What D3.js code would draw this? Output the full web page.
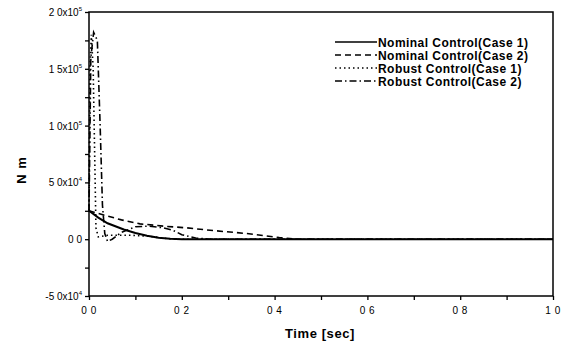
<!DOCTYPE html>
<html>
<head>
<meta charset="utf-8">
<script src="https://cdn.jsdelivr.net/npm/d3@7"></script>
<style>
  body { margin: 0; background: #fff; }
  svg { display: block; font-family: "Liberation Sans", Arial, sans-serif; }
</style>
</head>
<body>
<svg width="561" height="345"></svg>
<script>
// time [sec], torque [N m]
var nominal1 = [[0, 25000], [0.02, 19000], [0.04, 14000], [0.075, 8500], [0.1, 5500], [0.125, 3000],
                [0.15, 1300], [0.175, 300], [0.2, 0], [1.0, 0]]
var nominal2 = [[0, 25000], [0.03, 21500], [0.07, 17000], [0.11, 13500], [0.16, 11500], [0.21, 10000],
                [0.27, 7500], [0.34, 5000], [0.41, 1500], [0.45, 0], [1.0, 0]]
var robust1 = [[0, 25000], [0.002, 150000], [0.005, 180000], [0.009, 150000], [0.012, 80000],
               [0.015, 10000], [0.02, 2000], [0.04, 3500], [0.09, 3500], [0.13, 2500], [0.18, 0], [1.0, 0]]
var robust2 = [[0, 25000], [0.004, 160000], [0.01, 182000], [0.018, 175000], [0.024, 100000],
               [0.029, 30000], [0.034, 5000], [0.04, -2000], [0.05, 0], [0.07, 6000], [0.1, 11000],
               [0.13, 11500], [0.16, 10000], [0.18, 8000], [0.2, 4000], [0.23, 1000], [0.26, 0], [1.0, 0]]

var seriesNames = ['Nominal Control(Case 1)', 'Nominal Control(Case 2)', 'Robust Control(Case 1)', 'Robust Control(Case 2)']
var xTicks = [0, 0.2, 0.4, 0.6, 0.8, 1.0]
var xTickLabels = ['0 0', '0 2', '0 4', '0 6', '0 8', '1 0']
var yTicks = [-50000, 0, 50000, 100000, 150000, 200000]
var yTickLabels = [['-5 0x10', '4'], ['0 0', ''], ['5 0x10', '4'], ['1 0x10', '5'], ['1 5x10', '5'], ['2 0x10', '5']]

var svg = d3.select('svg')
  , m = { left: 89, right: 553, top: 12, bottom: 296 }

var x = d3.scaleLinear().domain([0, 1]).range([m.left, m.right])
var y = d3.scaleLinear().domain([-50000, 200000]).range([m.bottom, m.top])

var dashes = [null, '6,4', '1.5,3', '7,3,1.5,3']

// frame
svg.append('rect')
  .attr('x', m.left).attr('y', m.top)
  .attr('width', m.right - m.left).attr('height', m.bottom - m.top)
  .attr('fill', 'none').attr('stroke', '#000').attr('stroke-width', 1.5)

// x axis
var xAxis = svg.append('g').attr('transform', 'translate(0,' + m.bottom + ')')
xAxis.call(d3.axisBottom(x).tickValues(d3.range(0, 1.01, 0.1)).tickSize(4).tickFormat(''))
xAxis.select('.domain').remove()
xAxis.selectAll('line').attr('stroke-width', 1.3)
xAxis.selectAll('text.lbl').data(xTicks).enter().append('text')
  .attr('x', function (d) { return x(d) }).attr('y', 18)
  .attr('text-anchor', 'middle').attr('font-size', 10).attr('letter-spacing', 0.5).attr('fill', '#000')
  .text(function (d, i) { return xTickLabels[i] })

// y axis
var yAxis = svg.append('g').attr('transform', 'translate(' + m.left + ',0)')
yAxis.call(d3.axisLeft(y).tickValues(d3.range(-50000, 200001, 25000)).tickSize(4).tickFormat(''))
yAxis.select('.domain').remove()
yAxis.selectAll('line').attr('stroke-width', 1.3)
var yl = yAxis.selectAll('text.lbl').data(yTicks).enter().append('text')
  .attr('x', -7)
  .attr('y', function (d) { return y(d) + 4 })
  .attr('text-anchor', 'end').attr('font-size', 10).attr('fill', '#000')
yl.append('tspan').text(function (d, i) { return yTickLabels[i][0] })
yl.append('tspan').attr('font-size', 6).attr('dy', -5)
  .text(function (d, i) { return yTickLabels[i][1] })

// axis titles
svg.append('text').attr('x', 320).attr('y', 338).attr('text-anchor', 'middle')
  .attr('font-size', 13).attr('letter-spacing', 0.6).attr('font-weight', 'bold').text('Time [sec]')
svg.append('text').attr('transform', 'translate(26,170) rotate(-90)').attr('text-anchor', 'middle')
  .attr('font-size', 13).attr('letter-spacing', 1).attr('font-weight', 'bold').text('N m')

// curves
var line = d3.line().x(function (d) { return x(d[0]) }).y(function (d) { return y(d[1]) })
svg.selectAll('path.curve').data([nominal1, nominal2, robust1, robust2]).enter().append('path')
  .attr('class', 'curve')
  .attr('d', line)
  .attr('fill', 'none').attr('stroke', '#000')
  .attr('stroke-width', function (d, i) { return i == 0 ? 2 : 1.6 })
  .attr('stroke-dasharray', function (d, i) { return dashes[i] })

// legend
var leg = svg.selectAll('g.leg').data(seriesNames).enter().append('g')
  .attr('transform', function (d, i) { return 'translate(335,' + (42 + i * 13) + ')' })
leg.append('line').attr('x1', 0).attr('x2', 42).attr('y1', 0).attr('y2', 0)
  .attr('stroke', '#000').attr('stroke-width', 1.4)
  .attr('stroke-dasharray', function (d, i) { return dashes[i] })
leg.append('text').attr('x', 43).attr('y', 4.5).attr('font-size', 12).attr('letter-spacing', 0.45)
  .attr('font-weight', 'bold')
  .text(function (d) { return d })
</script>
</body>
</html>
